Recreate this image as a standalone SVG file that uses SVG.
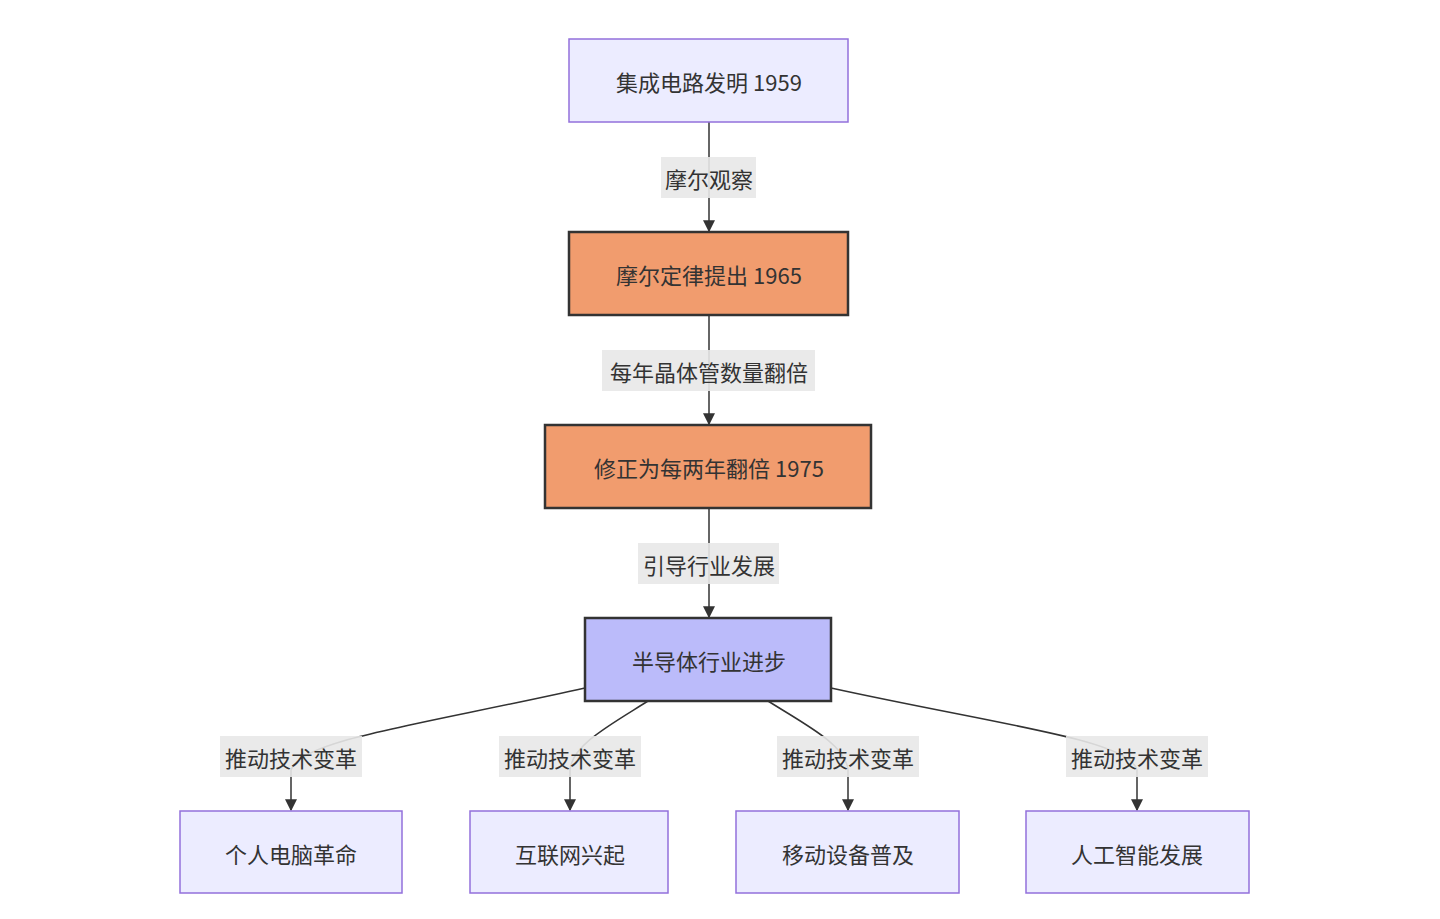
<svg xmlns="http://www.w3.org/2000/svg" width="1440" height="919" viewBox="0 0 1440 919">
<style>
text{font-family:"Noto Sans CJK SC","Noto Sans",sans-serif;font-size:22px;fill:#333;text-anchor:middle;dominant-baseline:central}
.a{fill:#ECECFF;stroke:#9370DB;stroke-width:1.5}
.o{fill:#F19C6E;stroke:#333;stroke-width:2.5}
.p{fill:#BBBBFA;stroke:#333;stroke-width:2.5}
.e{fill:none;stroke:#333;stroke-width:1.5;marker-end:url(#m)}
.l{fill:#E8E8E8;opacity:0.9}
</style>
<defs><marker id="m" viewBox="0 0 10 10" refX="9" refY="5" markerWidth="8" markerHeight="8" orient="auto"><path d="M0,0L10,5L0,10z" fill="#333"/></marker></defs>
<rect width="1440" height="919" fill="#fff"/>
<g id="edges">
<path class="e" d="M709,122V231"/>
<path class="e" d="M709,315V424"/>
<path class="e" d="M709,508V617"/>
<path class="e" d="M585,688C420,725 300,740 291,770V810"/>
<path class="e" d="M648,701C610,725 572,745 570,770V810"/>
<path class="e" d="M768,701C806,725 846,745 848,770V810"/>
<path class="e" d="M831,688C1000,725 1130,740 1137,770V810"/>
<rect class="l" x="661" y="157" width="95" height="41"/><text x="709" y="178">摩尔观察</text>
<rect class="l" x="602" y="350" width="213" height="41"/><text x="709" y="371">每年晶体管数量翻倍</text>
<rect class="l" x="638" y="543" width="141" height="41"/><text x="709" y="564">引导行业发展</text>
<rect class="l" x="220" y="736" width="142" height="41"/><text x="291" y="757">推动技术变革</text>
<rect class="l" x="499" y="736" width="142" height="41"/><text x="570" y="757">推动技术变革</text>
<rect class="l" x="777" y="736" width="142" height="41"/><text x="848" y="757">推动技术变革</text>
<rect class="l" x="1066" y="736" width="142" height="41"/><text x="1137" y="757">推动技术变革</text>
</g>
<g id="n1"><rect class="a" x="569" y="39" width="279" height="83"/><text x="709" y="81">集成电路发明 1959</text></g>
<g id="n2"><rect class="o" x="569" y="232" width="279" height="83"/><text x="709" y="274">摩尔定律提出 1965</text></g>
<g id="n3"><rect class="o" x="545" y="425" width="326" height="83"/><text x="709" y="467">修正为每两年翻倍 1975</text></g>
<g id="n4"><rect class="p" x="585" y="618" width="246" height="83"/><text x="709" y="660">半导体行业进步</text></g>
<g id="n5"><rect class="a" x="180" y="811" width="222" height="82"/><text x="291" y="853">个人电脑革命</text></g>
<g id="n6"><rect class="a" x="470" y="811" width="198" height="82"/><text x="570" y="853">互联网兴起</text></g>
<g id="n7"><rect class="a" x="736" y="811" width="223" height="82"/><text x="848" y="853">移动设备普及</text></g>
<g id="n8"><rect class="a" x="1026" y="811" width="223" height="82"/><text x="1137" y="853">人工智能发展</text></g>
</svg>
